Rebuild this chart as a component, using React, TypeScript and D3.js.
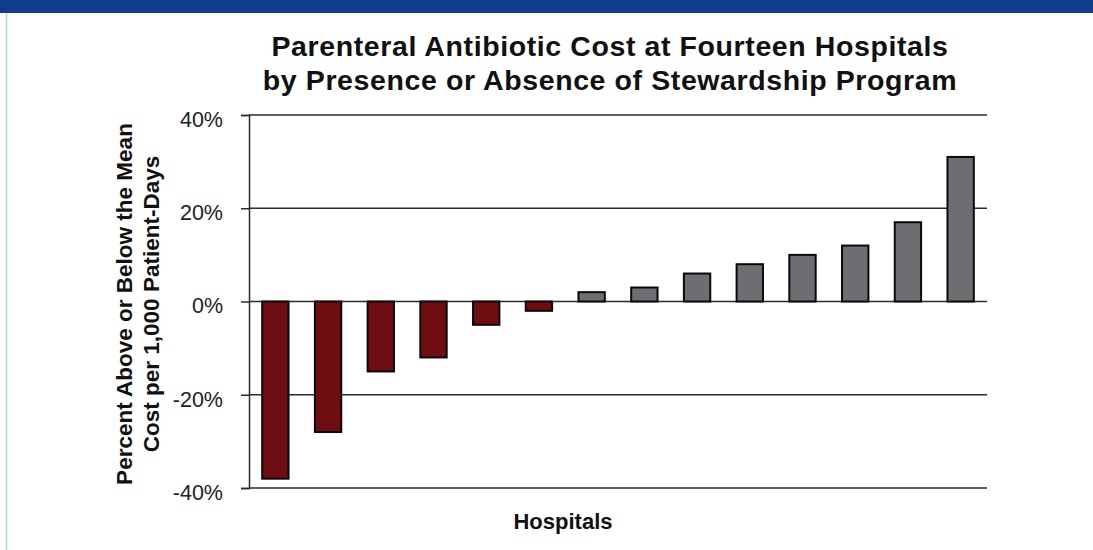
import * as d3 from 'd3';
import { useEffect, useRef } from 'react';

const hospitals = ['H1', 'H2', 'H3', 'H4', 'H5', 'H6', 'H7', 'H8', 'H9', 'H10', 'H11', 'H12', 'H13', 'H14'];
const costDiff = [-38, -28, -15, -12, -5, -2, 2, 3, 6, 8, 10, 12, 17, 31];
const stewardship = [true, true, true, true, true, true, false, false, false, false, false, false, false, false];
const yTicks = [-40, -20, 0, 20, 40];
const titleLines = [
  'Parenteral Antibiotic Cost at Fourteen Hospitals',
  'by Presence or Absence of Stewardship Program',
];
const yLabelLines = ['Percent Above or Below the Mean', 'Cost per 1,000 Patient-Days'];

const W = 1093;
const H = 550;
const FONT = '"Liberation Sans", Arial, Helvetica, sans-serif';

export default function App() {
  const ref = useRef<SVGSVGElement>(null);

  useEffect(() => {
    if (!ref.current) return;
    const svg = d3.select(ref.current);
    svg.selectAll('*').remove();

    // header strip + left rule
    svg.append('rect').attr('x', 0).attr('y', 0).attr('width', W).attr('height', 13).attr('fill', '#0f3d8c');
    svg
      .append('line')
      .attr('x1', 6.5)
      .attr('x2', 6.5)
      .attr('y1', 13)
      .attr('y2', H)
      .attr('stroke', '#9edcd6')
      .attr('stroke-width', 1.5);

    const margin = { left: 249, right: 106, top: 115, bottom: 62 };
    const iw = W - margin.left - margin.right;
    const ih = H - margin.top - margin.bottom;

    const g = svg.append('g').attr('transform', `translate(${margin.left},${margin.top})`);

    const x = d3.scaleBand().domain(hospitals).range([0, iw]).paddingInner(0.5).paddingOuter(0.25);
    const y = d3.scaleLinear().domain([-40, 40]).range([ih, 0]);

    // grid + ticks
    const yAxis = d3
      .axisLeft(y)
      .tickValues(yTicks)
      .tickSize(8)
      .tickPadding(18)
      .tickFormat((d) => `${d}%`);
    const ax = g.append('g').call(yAxis);
    ax.select('.domain').attr('stroke', '#2b2b2b').attr('stroke-width', 1.5);
    ax.selectAll('.tick line').attr('stroke', '#2b2b2b').attr('stroke-width', 1.5);
    ax.selectAll('.tick text')
      .attr('font-family', FONT)
      .attr('font-size', 21.5)
      .attr('dy', '0.53em')
      .attr('fill', '#222');

    g.append('g')
      .selectAll('line')
      .data(yTicks)
      .join('line')
      .attr('x1', 0)
      .attr('x2', iw)
      .attr('y1', (d) => y(d))
      .attr('y2', (d) => y(d))
      .attr('stroke', '#2b2b2b')
      .attr('stroke-width', 1.5);

    // bars
    g.append('g')
      .selectAll('rect')
      .data(costDiff)
      .join('rect')
      .attr('x', (_, i) => x(hospitals[i]) ?? 0)
      .attr('width', x.bandwidth())
      .attr('y', (d) => y(Math.max(0, d)))
      .attr('height', (d) => Math.abs(y(d) - y(0)))
      .attr('fill', (_, i) => (stewardship[i] ? '#6e0e12' : '#6d6e71'))
      .attr('stroke', '#0a0a0a')
      .attr('stroke-width', 2);

    // title
    svg
      .append('text')
      .attr('x', 610)
      .attr('y', 55.5)
      .attr('text-anchor', 'middle')
      .attr('font-family', FONT)
      .attr('font-weight', 'bold')
      .attr('font-size', 28.5)
      .attr('letter-spacing', 0.6)
      .attr('fill', '#111')
      .selectAll('tspan')
      .data(titleLines)
      .join('tspan')
      .attr('x', 610)
      .attr('dy', (_, i) => (i === 0 ? 0 : 34))
      .text((d) => d);

    // y label
    svg
      .append('text')
      .attr('transform', `translate(132,304) rotate(-90)`)
      .attr('text-anchor', 'middle')
      .attr('font-family', FONT)
      .attr('font-weight', 'bold')
      .attr('font-size', 22.5)
      .attr('fill', '#111')
      .selectAll('tspan')
      .data(yLabelLines)
      .join('tspan')
      .attr('x', 0)
      .attr('dy', (_, i) => (i === 0 ? 0 : 27))
      .text((d) => d);

    // x label
    svg
      .append('text')
      .attr('x', 563)
      .attr('y', 529)
      .attr('text-anchor', 'middle')
      .attr('font-family', FONT)
      .attr('font-weight', 'bold')
      .attr('font-size', 22)
      .attr('fill', '#111')
      .text('Hospitals');
  }, []);

  return (
    <svg
      ref={ref}
      width={W}
      height={H}
      style={{ position: 'absolute', left: 0, top: 0, background: '#fff' }}
    />
  );
}
